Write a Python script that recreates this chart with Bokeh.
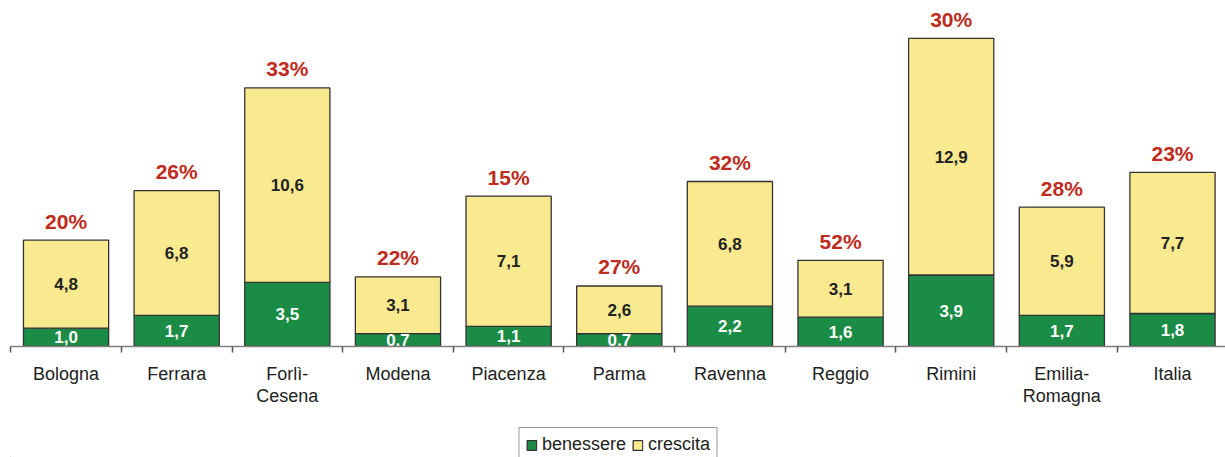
from bokeh.plotting import figure
from bokeh.layouts import column
from bokeh.models import (ColumnDataSource, Range1d, FixedTicker, Legend, LegendItem)
from bokeh.core.properties import value
from bokeh.embed import file_html
from bokeh.resources import INLINE

categories = ["Bologna", "Ferrara", "Forlì-\nCesena", "Modena", "Piacenza", "Parma",
              "Ravenna", "Reggio", "Rimini", "Emilia-\nRomagna", "Italia"]
benessere = [1.0, 1.7, 3.5, 0.7, 1.1, 0.7, 2.2, 1.6, 3.9, 1.7, 1.8]
crescita = [4.8, 6.8, 10.6, 3.1, 7.1, 2.6, 6.8, 3.1, 12.9, 5.9, 7.7]
percent = ["20%", "26%", "33%", "22%", "15%", "27%", "32%", "52%", "30%", "28%", "23%"]
series_names = ["benessere", "crescita"]

GREEN = "#1a8c45"
YELLOW = "#f9e98f"
RED = "#be2b20"
EDGE = "#333333"
FONT = "Liberation Sans"

def fmt(v):
    return f"{v:.1f}".replace(".", ",")

xs = list(range(len(categories)))
totals = [b + c for b, c in zip(benessere, crescita)]
src = ColumnDataSource(dict(
    x=xs,
    benessere=benessere,
    crescita=crescita,
    total=totals,
    ben_mid=[b / 2 for b in benessere],
    cre_mid=[b + c / 2 for b, c in zip(benessere, crescita)],
    ben_lbl=[fmt(v) for v in benessere],
    cre_lbl=[fmt(v) for v in crescita],
    pct=percent,
))

p = figure(width=1225, height=420, output_backend="svg", toolbar_location=None,
           x_range=Range1d(-0.502, 10.479), y_range=Range1d(0, 18.87),
           y_axis_location=None, min_border_left=10, min_border_right=0,
           min_border_top=0, min_border_bottom=74)
p.outline_line_color = None
p.xgrid.visible = False
p.ygrid.visible = False

rs = p.vbar_stack(series_names, x="x", width=0.77, source=src,
                  color=[GREEN, YELLOW], line_color=EDGE, line_width=1.3)
for r, c in zip(rs, [GREEN, YELLOW]):
    r.glyph.fill_color = c
    r.glyph.line_color = EDGE

p.text(x="x", y="ben_mid", text="ben_lbl", source=src, text_align="center",
       text_baseline="middle", text_color="white", text_font=value(FONT),
       text_font_style="bold", text_font_size="17px")
p.text(x="x", y="cre_mid", text="cre_lbl", source=src, text_align="center",
       text_baseline="middle", text_color="#222222", text_font=value(FONT),
       text_font_style="bold", text_font_size="17px")
p.text(x="x", y="total", text="pct", source=src, text_align="center",
       text_baseline="middle", y_offset=-19, text_color=RED, text_font=value(FONT),
       text_font_style="bold", text_font_size="21px")

ax = p.xaxis[0]
ax.ticker = FixedTicker(ticks=xs, minor_ticks=[i - 0.5 for i in range(len(categories) + 1)])
ax.major_label_overrides = {i: c for i, c in enumerate(categories)}
ax.major_tick_out = 0
ax.major_tick_in = 0
ax.minor_tick_out = 6
ax.minor_tick_in = 0
ax.minor_tick_line_color = "#555555"
ax.minor_tick_line_width = 1.5
ax.axis_line_color = "#808080"
ax.axis_line_width = 1.5
ax.major_label_standoff = 11
ax.major_label_text_font = FONT
ax.major_label_text_font_size = "18px"
ax.major_label_text_line_height = 1.1
ax.major_label_text_color = "#222222"

# legend strip below the chart (swatch renderers lie outside the visible range)
p2 = figure(width=1225, height=37, output_backend="svg", toolbar_location=None,
            x_range=Range1d(0, 1), y_range=Range1d(0, 1),
            x_axis_location=None, y_axis_location=None,
            min_border_left=0, min_border_right=0, min_border_top=0, min_border_bottom=0)
p2.outline_line_color = None
p2.xgrid.visible = False
p2.ygrid.visible = False
g1 = p2.vbar(x=[-5], top=[-4], bottom=[-5], width=0.1, fill_color=GREEN,
             line_color=EDGE, line_width=1.3)
g2 = p2.vbar(x=[-5], top=[-4], bottom=[-5], width=0.1, fill_color=YELLOW,
             line_color=EDGE, line_width=1.3)

legend = Legend(items=[LegendItem(label=series_names[0], renderers=[g1]),
                       LegendItem(label=series_names[1], renderers=[g2])],
                orientation="horizontal", location="top_center", margin=7,
                padding=6, spacing=5, label_standoff=5,
                glyph_width=12, glyph_height=12, label_height=18,
                label_text_font=FONT, label_text_font_size="18px",
                label_text_color="#222222",
                border_line_color=EDGE, border_line_width=1.2,
                background_fill_alpha=1.0)
p2.add_layout(legend, "center")

layout = column(p, p2, spacing=0)
open("out.html", "w").write(file_html(layout, INLINE))
